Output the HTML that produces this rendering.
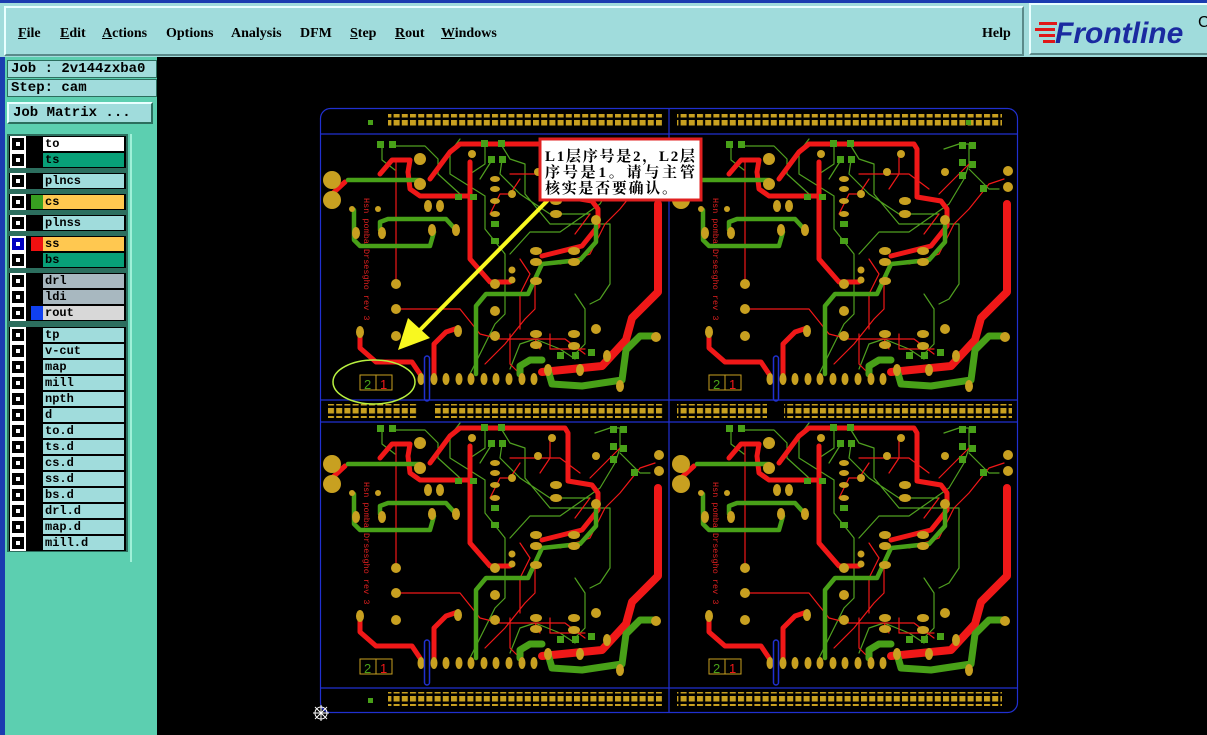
<!DOCTYPE html>
<html><head><meta charset="utf-8"><style>
body{margin:0;width:1207px;height:735px;overflow:hidden;background:#000;font-family:"Liberation Serif","Noto Serif CJK SC",serif;position:relative}
.menu{position:absolute;left:0;top:0;width:1207px;height:57px;background:#a0dcdc;border-top:3px solid #1a3cb0;box-sizing:border-box}
.mb{position:absolute;left:4px;top:3px;width:1020px;height:50px;border:2px solid #e8ffff;border-right-color:#5a8a8a;border-bottom-color:#5a8a8a;box-sizing:border-box}
.mi{position:absolute;top:18px;font-weight:bold;font-size:14px;color:#000}
.mi u{text-decoration:underline}
.logo{position:absolute;left:1029px;top:3px;width:178px;height:52px;border:2px solid #e8ffff;border-right:none;border-bottom-color:#5a8a8a;box-sizing:border-box;background:#a0dcdc}
.left{position:absolute;left:0;top:57px;width:157px;height:678px;background:#5ccfb0;border-left:5px solid #1a3cb0;box-sizing:border-box}
.fld{position:absolute;left:2px;width:150px;height:18px;background:#a0dcdc;border:1px solid #2c6e5e;box-sizing:border-box;font-family:"Liberation Mono",monospace;font-weight:bold;font-size:14px;line-height:16px;padding-left:3px}
.btn{position:absolute;left:7px;top:103px;width:146px;height:22px;background:#a0dcdc;border:2px solid #e8ffff;border-right-color:#2c6e5e;border-bottom-color:#2c6e5e;box-sizing:border-box;font-family:"Liberation Mono",monospace;font-weight:bold;font-size:14px;line-height:18px;padding-left:4px}
.list{position:absolute;left:7px;top:134px;width:121px;height:418px;background:#2c6e5e}
.row{position:absolute;left:2px;width:117px;height:16px;background:#000}
.row .cb{position:absolute;left:3px;top:2px;width:8px;height:8px;border:2px solid #000;outline:2px solid #fff;background:#fff;box-shadow:inset 0 0 0 2px #000}
.row .col{position:absolute;left:22px;top:1px;width:13px;height:14px}
.row .nm{position:absolute;left:34px;top:1px;width:81px;height:14px;font-family:"Liberation Mono",monospace;font-weight:bold;font-size:12px;line-height:14px;padding-left:2px;box-sizing:border-box;background:#a0dcdc}
.side{position:absolute;left:130px;top:134px;width:25px;height:428px;background:#5ccfb0;border-left:2px solid #a0f0d8}
</style></head><body>
<div class="menu"><div class="mb">
<span class="mi" style="left:12px"><u>F</u>ile</span>
<span class="mi" style="left:54px"><u>E</u>dit</span>
<span class="mi" style="left:96px"><u>A</u>ctions</span>
<span class="mi" style="left:160px">Options</span>
<span class="mi" style="left:225px">Analysis</span>
<span class="mi" style="left:294px">DFM</span>
<span class="mi" style="left:344px"><u>S</u>tep</span>
<span class="mi" style="left:389px"><u>R</u>out</span>
<span class="mi" style="left:435px"><u>W</u>indows</span>
<span class="mi" style="left:976px">Help</span>
</div></div>
<div class="logo">
<svg width="178" height="50" style="position:absolute;left:0;top:0">
<g fill="#e01818"><rect x="8" y="17" width="18" height="3"/><rect x="4" y="23" width="20" height="3"/><rect x="8" y="29" width="16" height="3"/><rect x="12" y="35" width="12" height="3"/></g>
<text x="24" y="38" font-family="Liberation Sans,sans-serif" font-weight="bold" font-style="italic" font-size="30" fill="#1a2aa0">Frontline</text>
<text x="167" y="22" font-family="Liberation Sans,sans-serif" font-size="16" fill="#000">C</text>
</svg></div>
<div class="left">
<div class="fld" style="top:3px">Job : 2v144zxba0</div>
<div class="fld" style="top:22px">Step: cam</div>
<div class="btn" style="left:2px;top:45px">Job Matrix ...</div>
</div>
<div class="side"></div>
<div class="list">
<div class="row" style="top:2px"><div class="cb"></div><div class="nm" style="background:#fff">to</div></div>
<div class="row" style="top:18px"><div class="cb"></div><div class="nm" style="background:#08a078">ts</div></div>
<div class="row" style="top:39px"><div class="cb"></div><div class="nm">plncs</div></div>
<div class="row" style="top:60px"><div class="cb"></div><div class="col" style="background:#38a020"></div><div class="nm" style="background:#ffc850">cs</div></div>
<div class="row" style="top:81px"><div class="cb"></div><div class="nm">plnss</div></div>
<div class="row" style="top:102px;"><div class="cb" style="border-color:#0000c0;box-shadow:inset 0 0 0 2px #0000c0"></div><div class="col" style="background:#f01010"></div><div class="nm" style="background:#ffc850">ss</div></div>
<div class="row" style="top:118px"><div class="cb"></div><div class="nm" style="background:#08a078">bs</div></div>
<div class="row" style="top:139px"><div class="cb"></div><div class="nm" style="background:#a8b8c0">drl</div></div>
<div class="row" style="top:155px"><div class="cb"></div><div class="nm" style="background:#a8b8c0">ldi</div></div>
<div class="row" style="top:171px"><div class="cb"></div><div class="col" style="background:#1040f0"></div><div class="nm" style="background:#d8d8d8">rout</div></div>
<div class="row" style="top:193px"><div class="cb"></div><div class="nm">tp</div></div>
<div class="row" style="top:209px"><div class="cb"></div><div class="nm">v-cut</div></div>
<div class="row" style="top:225px"><div class="cb"></div><div class="nm">map</div></div>
<div class="row" style="top:241px"><div class="cb"></div><div class="nm">mill</div></div>
<div class="row" style="top:257px"><div class="cb"></div><div class="nm">npth</div></div>
<div class="row" style="top:273px"><div class="cb"></div><div class="nm">d</div></div>
<div class="row" style="top:289px"><div class="cb"></div><div class="nm">to.d</div></div>
<div class="row" style="top:305px"><div class="cb"></div><div class="nm">ts.d</div></div>
<div class="row" style="top:321px"><div class="cb"></div><div class="nm">cs.d</div></div>
<div class="row" style="top:337px"><div class="cb"></div><div class="nm">ss.d</div></div>
<div class="row" style="top:353px"><div class="cb"></div><div class="nm">bs.d</div></div>
<div class="row" style="top:369px"><div class="cb"></div><div class="nm">drl.d</div></div>
<div class="row" style="top:385px"><div class="cb"></div><div class="nm">map.d</div></div>
<div class="row" style="top:401px"><div class="cb"></div><div class="nm">mill.d</div></div>
</div>

<svg width="1207" height="735" style="position:absolute;left:0;top:0">
<defs>
<pattern id="sq" patternUnits="userSpaceOnUse" width="8.2" height="8" x="0" y="0"><rect width="6" height="5.5" fill="#c8a020"/></pattern>
<g id="tile">
 <g fill="none" stroke-linecap="round" stroke-linejoin="round">
  <g stroke="#50a020" stroke-width="1.2">
   <path d="M62 12 V26 L75 36 M72 12 H105 L118 25 V40 L140 60 M140 5 L130 18 V40 L165 62 M165 12 V30 L150 40 M182 12 L190 25 L205 30 V60 L230 90 L290 90 M172 26 L160 45 M182 26 L180 40 L200 60 L230 80 L270 80 M165 62 L165 95 L185 120 V150 M185 150 V180 L175 190 L150 240 M190 235 L200 210 L215 205 L240 215 L255 225 M255 160 L265 175 V210 L255 220 M275 15 L290 10 H300 L300 30 L295 45 L280 70 L240 98 L210 98 L190 120 M300 35 L320 55 L330 55 M285 90 L290 90 L290 150 L280 165 L270 170"/>
  </g>
  <g stroke="#f01818" stroke-width="1.2">
   <path d="M76 25 V150 M76 175 H140 L160 200 L180 205 L245 205 L265 220 M230 20 V40 L220 55 M190 40 H240 L260 55 M200 45 L190 60 L180 60 L170 80 M300 30 L285 45 L270 60 M335 45 L320 50 L300 75 L285 90 L270 120 L240 130 M200 195 L200 160 L210 140 L200 125 M190 200 V230 L200 240 M215 150 V175 L205 185 L185 210 L165 230 M230 200 V215 H265 M215 205 L220 215 M270 80 L255 100"/>
  </g>
  <g stroke="#f01818" stroke-width="5">
   <path d="M60 40 L72 26 H90 L88 38 L90 55 L100 62 H150"/>
   <path d="M110 45 L130 18 L140 10 H245 L248 15 V63 L272 67 L278 75 V92 L262 112 L222 122"/>
   <path d="M150 28 V125 L170 148 H190"/>
   <path d="M40 200 V214 L56 228 H92 L100 240"/>
   <path d="M138 194 L126 198 L114 210 V244"/>
   <path d="M25 48 L12 60"/>
  </g>
  <path stroke="#f01818" stroke-width="8" d="M338 70 V158 L312 184 L306 206 L282 232 L222 238"/>
  <g stroke="#48a018" stroke-width="4.5">
   <path d="M28 46 H100"/>
   <path d="M34 76 V106 L40 112 H110 L114 98"/>
   <path d="M60 96 V88 L68 85 H126 L136 96"/>
   <path d="M276 92 V108 L260 126 L222 130 L208 160 H166 L156 172 V240"/>
  </g>
  <path stroke="#48a018" stroke-width="7" d="M336 202 H320 L306 216 L302 246 L262 252 L232 250 L228 236"/>
  <path stroke="#48a018" stroke-width="7" d="M200 240 V232 L210 226 H222"/>
 </g>
 <g fill="#c8a020">
  <circle cx="12" cy="46" r="9"/><circle cx="12" cy="66" r="9"/>
  <circle cx="100" cy="25" r="6"/><circle cx="100" cy="50" r="6"/>
  <circle cx="339" cy="37" r="5"/><circle cx="339" cy="53" r="5"/>
  <circle cx="76" cy="150" r="5"/><circle cx="76" cy="175" r="5"/><circle cx="76" cy="202" r="5"/>
  <circle cx="175" cy="150" r="5"/><circle cx="175" cy="177" r="5"/><circle cx="175" cy="202" r="5"/>
  <circle cx="276" cy="86" r="5"/><circle cx="276" cy="195" r="5"/><circle cx="336" cy="203" r="5"/>
  <circle cx="152" cy="20" r="4"/><circle cx="232" cy="20" r="4"/><circle cx="218" cy="38" r="4"/><circle cx="192" cy="60" r="4"/><circle cx="192" cy="146" r="3.5"/><circle cx="192" cy="136" r="3.5"/><circle cx="276" cy="38" r="4"/>
  <ellipse cx="216" cy="117" rx="6" ry="4"/><ellipse cx="254" cy="117" rx="6" ry="4"/><ellipse cx="216" cy="128" rx="6" ry="4"/><ellipse cx="254" cy="128" rx="6" ry="4"/><ellipse cx="216" cy="147" rx="6" ry="4"/>
  <ellipse cx="216" cy="200" rx="6" ry="4"/><ellipse cx="254" cy="200" rx="6" ry="4"/><ellipse cx="216" cy="211" rx="6" ry="4"/><ellipse cx="254" cy="212" rx="6" ry="4"/>
  <ellipse cx="236" cy="67" rx="6" ry="4"/><ellipse cx="236" cy="80" rx="6" ry="4"/><ellipse cx="175" cy="45" rx="5" ry="3"/><ellipse cx="175" cy="55" rx="5" ry="3"/><ellipse cx="175" cy="67" rx="5" ry="3"/><ellipse cx="175" cy="80" rx="5" ry="3"/>
  <ellipse cx="36" cy="99" rx="4" ry="6"/><ellipse cx="62" cy="99" rx="4" ry="6"/><ellipse cx="112" cy="96" rx="4" ry="6"/><ellipse cx="136" cy="96" rx="4" ry="6"/>
  <ellipse cx="108" cy="72" rx="4" ry="6"/><ellipse cx="120" cy="72" rx="4" ry="6"/><ellipse cx="32" cy="75" rx="3" ry="3"/><ellipse cx="58" cy="75" rx="3" ry="3"/>
  <ellipse cx="40" cy="198" rx="4" ry="6"/><ellipse cx="138" cy="197" rx="4" ry="6"/>
  <ellipse cx="101" cy="245" rx="3.5" ry="6"/><ellipse cx="114" cy="245" rx="3.5" ry="6"/><ellipse cx="126" cy="245" rx="3.5" ry="6"/><ellipse cx="139" cy="245" rx="3.5" ry="6"/><ellipse cx="151" cy="245" rx="3.5" ry="6"/><ellipse cx="164" cy="245" rx="3.5" ry="6"/><ellipse cx="176" cy="245" rx="3.5" ry="6"/><ellipse cx="189" cy="245" rx="3.5" ry="6"/><ellipse cx="202" cy="245" rx="3.5" ry="6"/><ellipse cx="214" cy="245" rx="3.5" ry="6"/>
  <ellipse cx="228" cy="236" rx="4" ry="6"/><ellipse cx="260" cy="236" rx="4" ry="6"/><ellipse cx="300" cy="252" rx="4" ry="6"/><ellipse cx="287" cy="222" rx="4" ry="6"/>
 </g>
 <g fill="#48a018">
  <rect x="57" y="7" width="7" height="7"/><rect x="69" y="7" width="7" height="7"/><rect x="161" y="6" width="7" height="7"/><rect x="178" y="6" width="7" height="7"/><rect x="168" y="22" width="7" height="7"/><rect x="179" y="22" width="7" height="7"/>
  <rect x="171" y="87" width="8" height="6"/><rect x="171" y="104" width="8" height="6"/><rect x="135" y="60" width="7" height="6"/><rect x="150" y="60" width="7" height="6"/>
  <rect x="290" y="8" width="7" height="7"/><rect x="300" y="8" width="7" height="7"/><rect x="290" y="25" width="7" height="7"/><rect x="300" y="27" width="7" height="7"/><rect x="290" y="38" width="7" height="7"/><rect x="311" y="51" width="7" height="7"/>
  <rect x="237" y="218" width="7" height="7"/><rect x="252" y="218" width="7" height="7"/><rect x="268" y="215" width="7" height="7"/>
 </g>
 <rect x="104.5" y="222" width="5" height="45" rx="2.5" fill="none" stroke="#2030d0" stroke-width="1.5"/>
 <rect x="40" y="241" width="16" height="15" fill="none" stroke="#c8a020"/>
 <rect x="56" y="241" width="16" height="15" fill="none" stroke="#c8a020"/>
</g>
</defs>
<rect x="320.5" y="108.5" width="697" height="604" rx="10" fill="none" stroke="#2030d0" stroke-width="1.2"/>
<g stroke="#2030d0" stroke-width="1.2">
<line x1="669" y1="109" x2="669" y2="712"/><line x1="321" y1="134" x2="1017" y2="134"/><line x1="321" y1="400" x2="1017" y2="400"/><line x1="321" y1="422" x2="1017" y2="422"/><line x1="321" y1="688" x2="1017" y2="688"/>
</g>
<rect x="388" y="114" width="274" height="14" fill="url(#sq)"/>
<rect x="677" y="114" width="325" height="14" fill="url(#sq)"/>
<rect x="388" y="692" width="274" height="14" fill="url(#sq)"/>
<rect x="677" y="692" width="325" height="14" fill="url(#sq)"/>
<rect x="328" y="404" width="90" height="14" fill="url(#sq)"/><rect x="435" y="404" width="228" height="14" fill="url(#sq)"/>
<rect x="677" y="404" width="90" height="14" fill="url(#sq)"/><rect x="784" y="404" width="228" height="14" fill="url(#sq)"/>
<rect x="368" y="120" width="5" height="5" fill="#48a018"/><rect x="966" y="120" width="5" height="5" fill="#48a018"/><rect x="368" y="698" width="5" height="5" fill="#48a018"/>
<use href="#tile" x="320" y="134"/>
<use href="#tile" x="669" y="134"/>
<use href="#tile" x="320" y="418"/>
<use href="#tile" x="669" y="418"/>
<g font-family="Liberation Sans,sans-serif" font-size="13">
<text x="364" y="389" fill="#48a018">2</text><text x="380" y="389" fill="#f01818">1</text>
<text x="713" y="389" fill="#48a018">2</text><text x="729" y="389" fill="#f01818">1</text>
<text x="364" y="673" fill="#48a018">2</text><text x="380" y="673" fill="#f01818">1</text>
<text x="713" y="673" fill="#48a018">2</text><text x="729" y="673" fill="#f01818">1</text>
</g>
<g font-family="Liberation Mono,monospace" font-size="8.5" fill="#e02020">
<text transform="translate(364,198) rotate(90)">Hsn pomba Drsesgho rev 3</text>
<text transform="translate(713,198) rotate(90)">Hsn pomba Drsesgho rev 3</text>
<text transform="translate(364,482) rotate(90)">Hsn pomba Drsesgho rev 3</text>
<text transform="translate(713,482) rotate(90)">Hsn pomba Drsesgho rev 3</text>
</g>
<ellipse cx="374" cy="382" rx="41" ry="22" fill="none" stroke="#b8f040" stroke-width="1.5"/>
<line x1="548" y1="200" x2="418" y2="332" stroke="#f8f820" stroke-width="4"/>
<polygon points="398,350 408,318 430,338" fill="#f8f820"/>
<rect x="540" y="139" width="161" height="61" fill="#fff" stroke="#e02020" stroke-width="3"/>
<g font-family="Liberation Serif,Noto Serif CJK SC,serif" font-size="15" font-weight="bold" fill="#000">
<text x="545" y="161" textLength="150">L1层序号是2，L2层</text>
<text x="545" y="177" textLength="150">序号是1。请与主管</text>
<text x="545" y="193" textLength="132">核实是否要确认。</text>
</g>
<g stroke="#fff" stroke-width="1"><circle cx="321" cy="713" r="6" fill="none"/><line x1="313" y1="713" x2="329" y2="713"/><line x1="321" y1="705" x2="321" y2="721"/><line x1="315" y1="707" x2="327" y2="719"/><line x1="327" y1="707" x2="315" y2="719"/></g>
</svg>
</body></html>
